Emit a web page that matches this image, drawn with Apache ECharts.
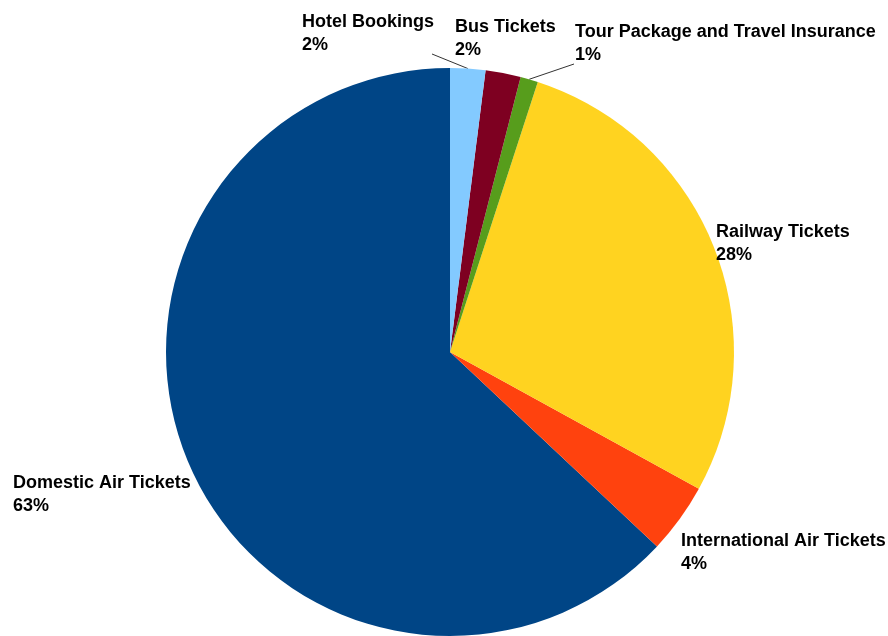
<!DOCTYPE html>
<html>
<head>
<meta charset="utf-8">
<script src="https://cdn.jsdelivr.net/npm/echarts@6/dist/echarts.min.js"></script>
<style>
html,body{margin:0;padding:0;background:#fff;}
#c{width:888px;height:636px;}
</style>
</head>
<body>
<div id="c"></div>
<script>
// Data (order as drawn, counter-clockwise from 12 o'clock)
const categories = ['Domestic Air Tickets', 'International Air Tickets', 'Railway Tickets', 'Tour Package and Travel Insurance', 'Bus Tickets', 'Hotel Bookings'];
const values = [63, 4, 28, 1, 2, 2];
const colors = ['#004586', '#ff420e', '#ffd320', '#579d1c', '#7e0021', '#83caff'];

// label placement (top-left of label block), styling only
const labelPos = [
  [13, 472], [681, 530], [716, 221], [575, 21], [455, 16], [302, 11]
];
const showLine = [false, false, false, true, false, true];
// which corner of the label block the leader line attaches to
const lineCorner = [null, null, null, 'leftBottom', null, 'rightBottom'];

const chart = echarts.init(document.getElementById('c'), null, {renderer: 'canvas'});
chart.setOption({
  animation: false,
  backgroundColor: '#ffffff',
  series: [{
    type: 'pie',
    center: [450, 352],
    radius: 284,
    startAngle: 90,
    clockwise: false,
    avoidLabelOverlap: false,
    itemStyle: {borderWidth: 0, borderColor: 'transparent'},
    data: categories.map((n, i) => ({
      name: n,
      value: values[i],
      itemStyle: {color: colors[i], borderWidth: 0},
      labelLine: {show: showLine[i]}
    })),
    label: {
      show: true,
      position: 'outside',
      formatter: '{b}\n{d}%',
      fontFamily: '"Liberation Sans", Arial, sans-serif',
      fontWeight: 'bold',
      fontSize: 18,
      lineHeight: 22.5,
      color: '#000',
      align: 'left'
    },
    labelLine: {
      lineStyle: {color: '#333', width: 1},
      length: 10, length2: 10, smooth: false
    },
    labelLayout: function (p) {
      const i = p.dataIndex;
      const pos = labelPos[i];
      const out = {x: pos[0], y: pos[1], align: 'left', verticalAlign: 'top'};
      if (lineCorner[i] && p.labelLinePoints) {
        const a = p.labelLinePoints[0];
        const w = p.labelRect.width, h = p.labelRect.height;
        const cx = lineCorner[i] === 'rightBottom' ? pos[0] + w - 2 : pos[0] - 1;
        const cy = pos[1] + h - 2;
        out.labelLinePoints = [[a[0], a[1]], [a[0], a[1]], [cx, cy]];
      }
      return out;
    },
    emphasis: {disabled: true}
  }]
});
</script>
</body>
</html>
